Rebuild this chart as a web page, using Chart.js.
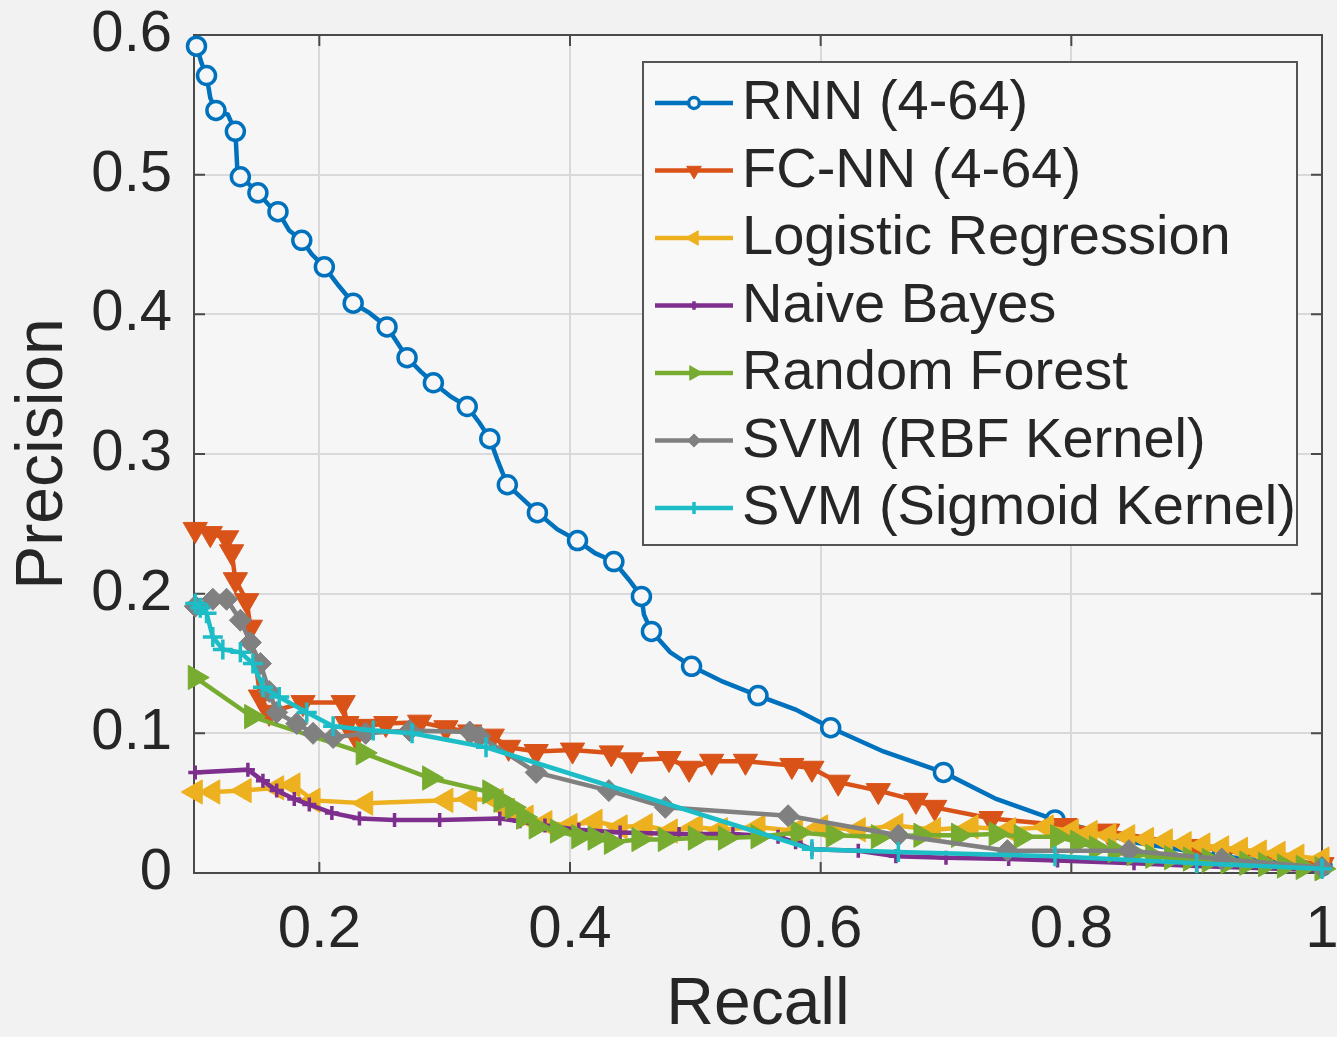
<!DOCTYPE html>
<html>
<head>
<meta charset="utf-8">
<title>Precision / Recall</title>
<script src="https://cdn.jsdelivr.net/npm/chart.js@4.4.1/dist/chart.umd.min.js"></script>
<style>
    html, body { margin: 0; padding: 0; background: #f2f2f2; }
    #wrap { width: 1337px; height: 1037px; }
</style>
</head>
<body>
<div id="wrap"><canvas id="pr-chart" width="1337" height="1037"></canvas></div>
<script>
const xTicks = [0.2, 0.4, 0.6, 0.8, 1];
const xTickLabels = ["0.2", "0.4", "0.6", "0.8", "1"];
const yTicks = [0, 0.1, 0.2, 0.3, 0.4, 0.5, 0.6];
const yTickLabels = ["0", "0.1", "0.2", "0.3", "0.4", "0.5", "0.6"];

const seriesNames = [
    "RNN (4-64)",
    "FC-NN (4-64)",
    "Logistic Regression",
    "Naive Bayes",
    "Random Forest",
    "SVM (RBF Kernel)",
    "SVM (Sigmoid Kernel)",
];
const seriesColors = ["#0072BD", "#D95319", "#EDB120", "#7E2F8E", "#77AC30", "#808080", "#1CBDC6"];

// RNN (4-64)
const rnnRecall = [0.102, 0.106, 0.110, 0.113, 0.1175, 0.127, 0.133, 0.1345, 0.137, 0.143, 0.151, 0.160, 0.167, 0.176,
    0.186, 0.194, 0.204, 0.215, 0.227, 0.240, 0.254, 0.262, 0.270, 0.281, 0.291, 0.305, 0.318, 0.328, 0.336, 0.342,
    0.350, 0.362, 0.374, 0.390, 0.406, 0.420, 0.435, 0.447, 0.457, 0.459, 0.465, 0.480, 0.497, 0.522, 0.550, 0.580,
    0.608, 0.650, 0.698, 0.740, 0.787, 0.850, 0.920, 0.960, 1.000];
const rnnPrecision = [0.592, 0.580, 0.571, 0.555, 0.546, 0.543, 0.531, 0.505, 0.4985, 0.494, 0.487, 0.478, 0.4735, 0.460,
    0.453, 0.443, 0.434, 0.421, 0.408, 0.401, 0.391, 0.380, 0.369, 0.359, 0.351, 0.341, 0.334, 0.322, 0.311, 0.296,
    0.278, 0.268, 0.258, 0.246, 0.238, 0.229, 0.223, 0.210, 0.198, 0.185, 0.173, 0.158, 0.148, 0.137, 0.127, 0.117,
    0.104, 0.087, 0.072, 0.053, 0.038, 0.022, 0.012, 0.008, 0.005];

// FC-NN (4-64)
const fcRecall = [0.101, 0.113, 0.126, 0.130, 0.133, 0.142, 0.145, 0.153, 0.160, 0.187, 0.219, 0.222, 0.229, 0.237,
    0.253, 0.280, 0.301, 0.320, 0.338, 0.351, 0.373, 0.402, 0.433, 0.449, 0.479, 0.495, 0.513, 0.540, 0.577, 0.593,
    0.614, 0.646, 0.676, 0.691, 0.736, 0.795, 0.829, 0.900, 1.000];
const fcPrecision = [0.246, 0.243, 0.240, 0.230, 0.210, 0.195, 0.176, 0.126, 0.115, 0.122, 0.122, 0.107, 0.098, 0.105,
    0.107, 0.108, 0.104, 0.101, 0.098, 0.090, 0.087, 0.088, 0.086, 0.081, 0.082, 0.075, 0.080, 0.080, 0.077, 0.075,
    0.065, 0.059, 0.052, 0.047, 0.039, 0.034, 0.030, 0.019, 0.006];

// Logistic Regression
const lrRecall = [0.101, 0.115, 0.140, 0.166, 0.179, 0.195, 0.237, 0.301, 0.320, 0.341, 0.350, 0.365, 0.380, 0.400,
    0.420, 0.440, 0.460, 0.480, 0.500, 0.520, 0.550, 0.580, 0.600, 0.630, 0.660, 0.690, 0.720, 0.750, 0.780, 0.800,
    0.815, 0.830, 0.845, 0.860, 0.875, 0.890, 0.905, 0.920, 0.935, 0.950, 0.965, 0.980, 1.000];
const lrPrecision = [0.058, 0.058, 0.059, 0.061, 0.063, 0.052, 0.050, 0.052, 0.053, 0.052, 0.045, 0.040, 0.036, 0.034,
    0.037, 0.033, 0.034, 0.030, 0.033, 0.031, 0.033, 0.030, 0.033, 0.031, 0.034, 0.031, 0.033, 0.031, 0.033, 0.030,
    0.029, 0.027, 0.026, 0.024, 0.023, 0.021, 0.020, 0.018, 0.017, 0.015, 0.014, 0.012, 0.010];

// Naive Bayes
const nbRecall = [0.101, 0.143, 0.155, 0.166, 0.180, 0.192, 0.210, 0.232, 0.260, 0.296, 0.344, 0.360, 0.380, 0.407,
    0.440, 0.487, 0.530, 0.566, 0.580, 0.593, 0.630, 0.660, 0.700, 0.750, 0.789, 0.850, 0.900, 1.000];
const nbPrecision = [0.072, 0.074, 0.066, 0.059, 0.053, 0.049, 0.043, 0.039, 0.038, 0.038, 0.039, 0.037, 0.034, 0.031,
    0.029, 0.028, 0.028, 0.026, 0.022, 0.017, 0.016, 0.012, 0.011, 0.010, 0.009, 0.007, 0.005, 0.002];

// Random Forest
const rfRecall = [0.101, 0.146, 0.235, 0.288, 0.336, 0.345, 0.354, 0.363, 0.373, 0.390, 0.407, 0.420, 0.433, 0.455,
    0.476, 0.500, 0.524, 0.550, 0.582, 0.610, 0.646, 0.680, 0.710, 0.740, 0.760, 0.789, 0.805, 0.820, 0.835, 0.850,
    0.865, 0.880, 0.895, 0.910, 0.925, 0.940, 0.955, 0.970, 0.985, 1.000];
const rfPrecision = [0.140, 0.112, 0.086, 0.068, 0.058, 0.052, 0.047, 0.040, 0.033, 0.030, 0.026, 0.025, 0.022, 0.024,
    0.024, 0.025, 0.025, 0.026, 0.029, 0.027, 0.026, 0.027, 0.027, 0.028, 0.026, 0.026, 0.022, 0.018, 0.016, 0.014,
    0.012, 0.011, 0.010, 0.009, 0.008, 0.007, 0.006, 0.005, 0.004, 0.003];

// SVM (RBF Kernel)
const rbfRecall = [0.101, 0.115, 0.126, 0.137, 0.145, 0.153, 0.160, 0.166, 0.182, 0.195, 0.211, 0.237, 0.272, 0.320,
    0.328, 0.373, 0.431, 0.476, 0.574, 0.662, 0.749, 0.846, 0.920, 1.000];
const rbfPrecision = [0.191, 0.196, 0.196, 0.181, 0.165, 0.150, 0.130, 0.115, 0.107, 0.100, 0.097, 0.100, 0.102, 0.101,
    0.098, 0.072, 0.059, 0.047, 0.041, 0.027, 0.016, 0.016, 0.010, 0.004];

// SVM (Sigmoid Kernel)
const sigRecall = [0.101, 0.105, 0.110, 0.115, 0.123, 0.137, 0.147, 0.155, 0.168, 0.190, 0.211, 0.243, 0.274, 0.333,
    0.593, 0.662, 0.787, 0.900, 1.000];
const sigPrecision = [0.193, 0.190, 0.186, 0.169, 0.160, 0.158, 0.150, 0.133, 0.126, 0.115, 0.105, 0.102, 0.100, 0.090,
    0.017, 0.015, 0.012, 0.007, 0.003];

const FONT = '"Liberation Sans", Arial, Helvetica, sans-serif';
const TEXT = "#262626";
const PAPER = "#f2f2f2";
const PLOT_BG = "#f6f6f6";

// marker look of each curve (matlab style)
const markers = [
    { shape: "circle", rot: 0, size: 9, bw: 3.5, fill: PLOT_BG, every: 2 },
    { shape: "triangle", rot: 180, size: 14, bw: 1, fill: null, every: 1 },
    { shape: "triangle", rot: 270, size: 14, bw: 1, fill: null, every: 1 },
    { shape: "cross", rot: 0, size: 7, bw: 3.5, fill: null, every: 1 },
    { shape: "triangle", rot: 90, size: 14, bw: 1, fill: null, every: 1 },
    { shape: "rectRot", rot: 0, size: 11, bw: 1, fill: null, every: 1 },
    { shape: "cross", rot: 0, size: 10, bw: 3.5, fill: null, every: 1 },
];

const makeSeries = (i, xs, ys) => {
    const m = markers[i];
    return {
        label: seriesNames[i],
        data: xs.map((x, k) => ({ x: x, y: ys[k] })),
        showLine: true,
        borderColor: seriesColors[i],
        borderWidth: 4.5,
        pointStyle: m.shape,
        pointRotation: m.rot,
        pointRadius: (ctx) => (ctx.dataIndex % m.every === 0 ? m.size : 0),
        pointHoverRadius: (ctx) => (ctx.dataIndex % m.every === 0 ? m.size : 0),
        pointBorderWidth: m.bw,
        pointBorderColor: seriesColors[i],
        pointBackgroundColor: m.fill || seriesColors[i],
        order: 10 - i, // later curves drawn on top, like matlab
        clip: false,
        tension: 0,
    };
};

const paperPlugin = {
    id: "paper",
    beforeDraw(chart) {
        const { ctx, width, height, chartArea: a } = chart;
        ctx.save();
        ctx.fillStyle = PAPER;
        ctx.fillRect(0, 0, width, height);
        ctx.fillStyle = PLOT_BG;
        ctx.fillRect(a.left, a.top, a.right - a.left, a.bottom - a.top);
        ctx.restore();
    },
};

// axes box + inward tick marks
const framePlugin = {
    id: "frame",
    beforeDatasetsDraw(chart) {
        const { ctx, chartArea: a } = chart;
        const x = chart.scales.x, y = chart.scales.y;
        ctx.save();
        ctx.strokeStyle = "#4a4a4a";
        ctx.lineWidth = 2;
        ctx.strokeRect(a.left, a.top, a.right - a.left, a.bottom - a.top);
        ctx.beginPath();
        xTicks.forEach((v) => {
            const px = x.getPixelForValue(v);
            ctx.moveTo(px, a.bottom); ctx.lineTo(px, a.bottom - 11);
            ctx.moveTo(px, a.top); ctx.lineTo(px, a.top + 11);
        });
        yTicks.forEach((v) => {
            const py = y.getPixelForValue(v);
            ctx.moveTo(a.left, py); ctx.lineTo(a.left + 11, py);
            ctx.moveTo(a.right, py); ctx.lineTo(a.right - 11, py);
        });
        ctx.stroke();
        ctx.restore();
    },
};

const legendPlugin = {
    id: "boxLegend",
    afterDraw(chart) {
        const ctx = chart.ctx;
        const left = 643, top = 62, w = 654, h = 483;
        ctx.save();
        ctx.fillStyle = "#f8f8f8";
        ctx.fillRect(left, top, w, h);
        ctx.strokeStyle = "#555555";
        ctx.lineWidth = 2;
        ctx.strokeRect(left, top, w, h);
        ctx.font = "56px " + FONT;
        ctx.textBaseline = "middle";
        ctx.textAlign = "left";
        chart.data.datasets.forEach((ds, i) => {
            const cy = top + 41 + i * 67.5;
            const m = markers[i];
            ctx.strokeStyle = seriesColors[i];
            ctx.lineWidth = 4.5;
            ctx.beginPath();
            ctx.moveTo(655, cy);
            ctx.lineTo(733, cy);
            ctx.stroke();
            ctx.fillStyle = m.fill || seriesColors[i];
            ctx.lineWidth = m.bw;
            Chart.helpers.drawPoint(ctx, {
                pointStyle: m.shape,
                rotation: m.rot,
                radius: m.size * 0.6,
                borderWidth: m.bw,
            }, 694, cy);
            ctx.fillStyle = TEXT;
            ctx.fillText(ds.label, 742, cy + 1);
        });
        ctx.restore();
    },
};

const datasets = [
    makeSeries(0, rnnRecall, rnnPrecision),
    makeSeries(1, fcRecall, fcPrecision),
    makeSeries(2, lrRecall, lrPrecision),
    makeSeries(3, nbRecall, nbPrecision),
    makeSeries(4, rfRecall, rfPrecision),
    makeSeries(5, rbfRecall, rbfPrecision),
    makeSeries(6, sigRecall, sigPrecision),
];

const prChart = new Chart(document.getElementById("pr-chart").getContext("2d"), {
    type: "scatter",
    data: { datasets: datasets },
    options: {
        responsive: false,
        animation: false,
        devicePixelRatio: 1,
        layout: { padding: { top: 35, right: 12, left: 0, bottom: 0 } },
        plugins: {
            legend: { display: false },
            tooltip: { enabled: false },
        },
        scales: {
            x: {
                type: "linear",
                min: 0.1,
                max: 1,
                afterBuildTicks: (scale) => { scale.ticks = xTicks.map((v) => ({ value: v })); },
                afterFit: (scale) => { scale.height = 164; scale.paddingLeft = 0; scale.paddingRight = 0; },
                grid: { color: "#d9d9d9", lineWidth: 2, drawTicks: false },
                border: { display: false },
                ticks: {
                    padding: 21,
                    color: TEXT,
                    maxRotation: 0,
                    font: { family: FONT, size: 60 },
                    callback: (value, index) => xTickLabels[index],
                },
                title: {
                    display: true,
                    text: "Recall",
                    color: TEXT,
                    padding: 0,
                    font: { family: FONT, size: 66, lineHeight: 0.94 },
                },
            },
            y: {
                type: "linear",
                min: 0,
                max: 0.6,
                afterBuildTicks: (scale) => { scale.ticks = yTicks.map((v) => ({ value: v })); },
                afterFit: (scale) => { scale.width = 194; scale.paddingTop = 0; scale.paddingBottom = 0; },
                grid: { color: "#d9d9d9", lineWidth: 2, drawTicks: false },
                border: { display: false },
                ticks: {
                    padding: 22,
                    color: TEXT,
                    font: { family: FONT, size: 58 },
                    callback: (value, index) => yTickLabels[index],
                },
                title: {
                    display: true,
                    text: "Precision",
                    color: TEXT,
                    padding: { top: 4, bottom: 0 },
                    font: { family: FONT, size: 66 },
                },
            },
        },
    },
    plugins: [paperPlugin, framePlugin, legendPlugin],
});
</script>
</body>
</html>
